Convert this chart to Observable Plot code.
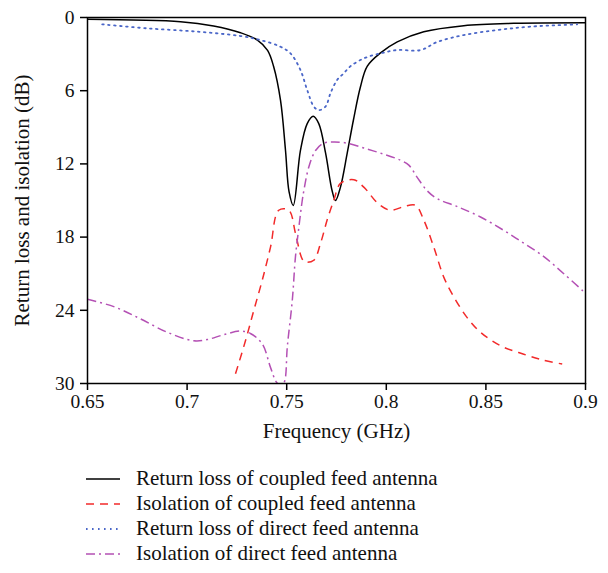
<!DOCTYPE html>
<html>
<head>
<meta charset="utf-8">
<script src="https://cdn.jsdelivr.net/npm/d3@7"></script>
<script src="https://cdn.jsdelivr.net/npm/@observablehq/plot@0.6"></script>
<style>
  body { margin: 0; background: #fff; font-family: "Liberation Serif", "DejaVu Serif", serif; }
  #legend { padding-left: 86px; padding-top: 16px; }
  .row { display: flex; align-items: center; height: 25px; font-size: 21px; color: #111; }
  .row svg { margin-right: 14px; }
  svg text { font-family: "Liberation Serif", "DejaVu Serif", serif; }
</style>
</head>
<body>
<div id="chart"></div>
<div id="legend"></div>
<script>
// Return loss of coupled feed antenna (solid black)
const rlCoupledF = [0.65, 0.6967, 0.7133, 0.7268, 0.7353, 0.7404, 0.7434, 0.7469, 0.7494, 0.7512, 0.7533, 0.7569, 0.7603, 0.7633, 0.7661, 0.7695, 0.7728, 0.7745, 0.7770, 0.7804, 0.7835, 0.7870, 0.7904, 0.7971, 0.8055, 0.8188, 0.8389, 0.8640, 0.9];
const rlCoupledDb = [0.15, 0.35, 0.7, 1.25, 1.85, 2.7, 4.0, 6.8, 10.9, 14.3, 15.4, 10.9, 8.7, 8.1, 8.7, 11.1, 14.2, 15.0, 13.9, 11.1, 8.4, 5.7, 4.0, 2.9, 2.0, 1.17, 0.67, 0.48, 0.43];

// Isolation of coupled feed antenna (dashed red)
const isoCoupledF = [0.7243, 0.7293, 0.7335, 0.7377, 0.7419, 0.7460, 0.7511, 0.7544, 0.7578, 0.7594, 0.7636, 0.7670, 0.7703, 0.7736, 0.7770, 0.7837, 0.7887, 0.7962, 0.8021, 0.8088, 0.8147, 0.8188, 0.8238, 0.8289, 0.8339, 0.8406, 0.8473, 0.8573, 0.8690, 0.8791, 0.8883];
const isoCoupledDb = [29.2, 26.5, 24.0, 21.55, 18.8, 15.8, 15.8, 17.7, 19.8, 20.05, 19.9, 18.5, 16.6, 15.0, 13.6, 13.3, 13.9, 15.3, 15.8, 15.5, 15.4, 16.6, 18.8, 21.3, 22.9, 24.6, 25.8, 26.9, 27.6, 28.1, 28.4];

// Return loss of direct feed antenna (dotted blue)
const rlDirectF = [0.6574, 0.6800, 0.7051, 0.7268, 0.7368, 0.7469, 0.7519, 0.7569, 0.7603, 0.7636, 0.7661, 0.7695, 0.7720, 0.7754, 0.7785, 0.7820, 0.7887, 0.7971, 0.8055, 0.8172, 0.8256, 0.8389, 0.8557, 0.8724, 0.8958];
const rlDirectDb = [0.56, 0.89, 1.16, 1.52, 1.85, 2.4, 2.94, 4.3, 5.95, 7.3, 7.6, 7.3, 6.2, 5.1, 4.6, 4.0, 3.35, 2.94, 2.67, 2.67, 2.0, 1.44, 1.03, 0.75, 0.56];

// Isolation of direct feed antenna (dash-dot magenta)
const isoDirectF = [0.65, 0.6632, 0.6766, 0.6900, 0.7034, 0.7101, 0.7184, 0.7268, 0.7318, 0.7377, 0.7419, 0.7449, 0.7475, 0.7490, 0.7503, 0.7528, 0.7544, 0.7561, 0.7578, 0.7586, 0.7611, 0.7645, 0.7686, 0.7736, 0.7804, 0.7887, 0.7987, 0.8071, 0.8113, 0.8155, 0.8205, 0.8256, 0.8356, 0.8473, 0.8590, 0.8690, 0.8791, 0.8891, 0.9];
const isoDirectDb = [23.1, 23.7, 24.7, 25.8, 26.5, 26.4, 26.0, 25.7, 25.9, 26.75, 28.7, 29.9, 30.2, 29.8, 27.0, 23.2, 19.6, 17.2, 15.0, 14.2, 12.25, 10.9, 10.3, 10.2, 10.3, 10.7, 11.2, 11.7, 12.1, 13.1, 14.2, 14.85, 15.5, 16.35, 17.45, 18.5, 19.6, 21.0, 22.6];

const xTicks = [0.65, 0.7, 0.75, 0.8, 0.85, 0.9];
const xTickLabels = ["0.65", "0.7", "0.75", "0.8", "0.85", "0.9"];
const yTicks = [0, 6, 12, 18, 24, 30];

const seriesNames = [
  "Return loss of coupled feed antenna",
  "Isolation of coupled feed antenna",
  "Return loss of direct feed antenna",
  "Isolation of direct feed antenna"
];
const seriesColors = ["#000000", "#f22a2a", "#4a66c8", "#b450b4"];
const seriesDash = [null, "8,6", "1.6,4.4", "9,4,2,4"];
const seriesWidth = [1.5, 1.5, 1.8, 1.5];

const toRows = (fs, ds) => fs.map((f, i) => ({f, db: ds[i]}));
const series = [
  toRows(rlCoupledF, rlCoupledDb),
  toRows(isoCoupledF, isoCoupledDb),
  toRows(rlDirectF, rlDirectDb),
  toRows(isoDirectF, isoDirectDb)
];

const lineMarks = series.map((rows, i) => Plot.line(rows, {
  x: "f", y: "db",
  stroke: seriesColors[i],
  strokeWidth: seriesWidth[i],
  strokeDasharray: seriesDash[i],
  strokeLinecap: seriesDash[i] === "1.6,4.4" ? "round" : "butt",
  curve: "catmull-rom",
  clip: true
}));

const chart = Plot.plot({
  width: 608,
  height: 450,
  marginLeft: 87,
  marginRight: 23,
  marginTop: 17,
  marginBottom: 67,
  style: { fontFamily: "'Liberation Serif', 'DejaVu Serif', serif", fontSize: "19.5px", color: "#111", background: "#fff" },
  x: { domain: [0.65, 0.9] },
  y: { domain: [0, 30], reverse: true },
  marks: [
    ...lineMarks,
    Plot.frame({ stroke: "#000", strokeWidth: 1.5 }),
    Plot.axisX({
      ticks: xTicks, tickFormat: (d, i) => xTickLabels[i], tickSize: 7, tickPadding: 4,
      stroke: "#000", strokeWidth: 1.5, fontSize: 19.5,
      label: null
    }),
    Plot.axisY({
      ticks: yTicks, tickSize: 7, tickPadding: 6,
      stroke: "#000", strokeWidth: 1.5, fontSize: 19.5,
      label: null
    }),
    Plot.text(["Frequency (GHz)"], {
      frameAnchor: "bottom", dy: 54, fontSize: 21, fill: "#111", text: d => d
    }),
    Plot.text(["Return loss and isolation (dB)"], {
      frameAnchor: "left", dx: -65, rotate: -90, textAnchor: "middle", fontSize: 21, fill: "#111", text: d => d
    })
  ]
});
document.getElementById("chart").appendChild(chart);

const legend = document.getElementById("legend");
seriesNames.forEach((name, i) => {
  const row = document.createElement("div");
  row.className = "row";
  const dash = seriesDash[i] ? `stroke-dasharray="${seriesDash[i]}"` : "";
  row.innerHTML = `<svg width="36" height="10"><line x1="0" y1="5" x2="34" y2="5" stroke="${seriesColors[i]}" stroke-width="${seriesWidth[i]}" ${dash}/></svg><span>${name}</span>`;
  legend.appendChild(row);
});
</script>
</body>
</html>
